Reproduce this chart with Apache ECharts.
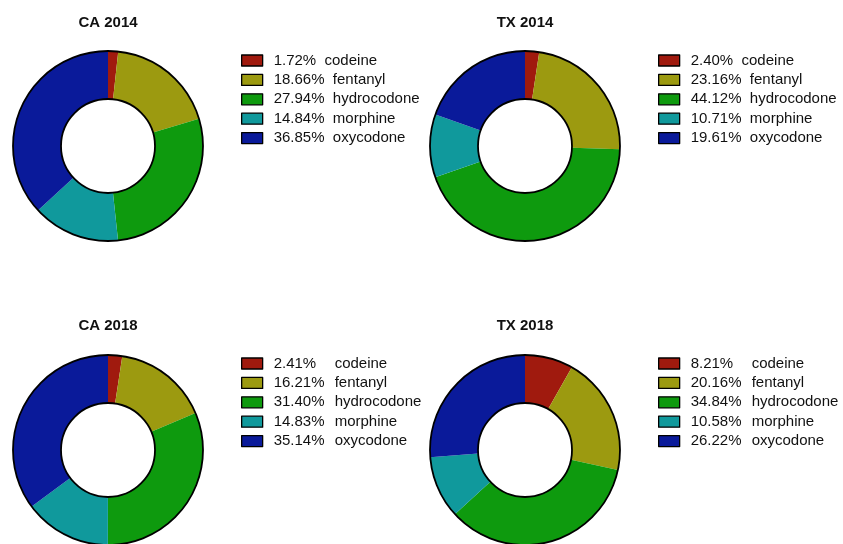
<!DOCTYPE html>
<html>
<head>
<meta charset="utf-8">
<script src="https://cdn.jsdelivr.net/npm/echarts@6/dist/echarts.min.js"></script>
<style>
html,body{margin:0;padding:0;background:#fff;}
#main{width:843px;height:544px;}
</style>
</head>
<body>
<div id="main"></div>
<script>
const categories = ['codeine', 'fentanyl', 'hydrocodone', 'morphine', 'oxycodone'];
const chartTitles = ['CA 2014', 'TX 2014', 'CA 2018', 'TX 2018'];
const ca2014 = [1.72, 18.66, 27.94, 14.84, 36.85];
const tx2014 = [2.40, 23.16, 44.12, 10.71, 19.61];
const ca2018 = [2.41, 16.21, 31.40, 14.83, 35.14];
const tx2018 = [8.21, 20.16, 34.84, 10.58, 26.22];
const colors = ['#A01A0E', '#9C9A10', '#0E9A0E', '#10999C', '#0A1A9A'];

const seriesValues = [ca2014, tx2014, ca2018, tx2018];
const centers = [[108, 146], [525, 146], [108, 450], [525, 450]];
const legendPos = [[241, 53], [658, 53], [241, 356], [658, 356]];
const titleTop = [15, 15, 318, 318];
const alignedColumn = [false, false, true, true];
const FONT = '"Liberation Sans", Arial, Helvetica, sans-serif';

const labelMap = {};
const series = [];
const legends = [];
const titles = [];

seriesValues.forEach((vals, i) => {
  const names = categories.map(c => chartTitles[i] + ' ' + c);
  names.forEach((n, k) => {
    labelMap[n] = { pct: vals[k].toFixed(2) + '%', cat: categories[k], aligned: alignedColumn[i] };
  });
  series.push({
    type: 'pie',
    center: centers[i],
    radius: [47, 95],
    startAngle: 90,
    clockwise: true,
    silent: true,
    label: { show: false },
    labelLine: { show: false },
    itemStyle: { borderWidth: 0 },
    data: vals.map((v, k) => ({ name: names[k], value: v, itemStyle: { color: colors[k] } }))
  });
  // ring outline
  series.push({
    type: 'pie',
    center: centers[i],
    radius: [47, 95],
    silent: true,
    z: 5,
    label: { show: false },
    labelLine: { show: false },
    itemStyle: { color: 'rgba(0,0,0,0)', borderColor: '#000', borderWidth: 1.8 },
    data: [{ value: 1, name: 'outline' + i }]
  });
  titles.push({
    text: chartTitles[i],
    left: centers[i][0],
    top: titleTop[i],
    textAlign: 'center',
    padding: 0,
    textStyle: { fontFamily: FONT, fontSize: 15, fontWeight: 'bold', color: '#111' }
  });
  legends.push({
    orient: 'vertical',
    left: legendPos[i][0],
    top: legendPos[i][1],
    padding: 0,
    itemWidth: 21,
    itemHeight: 11,
    itemGap: 4.4,
    icon: 'rect',
    selectedMode: false,
    data: names,
    itemStyle: { borderColor: '#000', borderWidth: 1.3 },
    formatter: function (name) {
      const m = labelMap[name];
      if (m.aligned) return '{p|' + m.pct + '}{n|' + m.cat + '}';
      return '{n|' + m.pct + '  ' + m.cat + '}';
    },
    textStyle: {
      fontFamily: FONT, fontSize: 15, color: '#111', lineHeight: 15,
      padding: [0, 0, 0, 6],
      rich: {
        p: { fontFamily: FONT, fontSize: 15, color: '#111', width: 61, lineHeight: 15 },
        n: { fontFamily: FONT, fontSize: 15, color: '#111', lineHeight: 15 }
      }
    }
  });
});

const chart = echarts.init(document.getElementById('main'), null, { renderer: 'canvas' });
chart.setOption({
  backgroundColor: '#fff',
  animation: false,
  title: titles,
  legend: legends,
  series: series
});
</script>
</body>
</html>
